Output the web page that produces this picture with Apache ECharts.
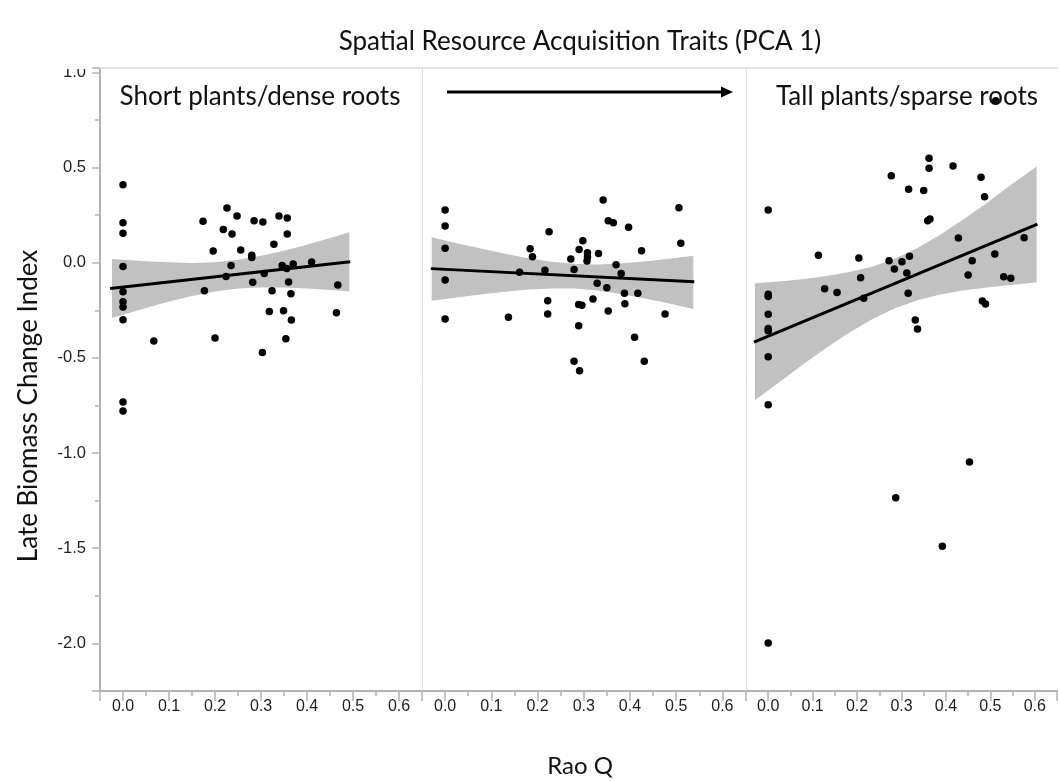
<!DOCTYPE html>
<html>
<head>
<meta charset="utf-8">
<script src="https://cdn.jsdelivr.net/npm/echarts@6/dist/echarts.min.js"></script>
<style>
  html, body { margin: 0; padding: 0; background: #ffffff; }
  #chart { width: 1060px; height: 781px; }
</style>
</head>
<body>
<div id="chart"></div>
<script>
// ---- data -------------------------------------------------------------
const chartTitle = 'Spatial Resource Acquisition Traits (PCA 1)';
const yTitle = 'Late Biomass Change Index';
const xTitle = 'Rao Q';
const panelLabels = ['Short plants/dense roots', '', 'Tall plants/sparse roots'];

// [Rao Q, late biomass change index]
const shortPts = [
  [0, 0.41], [0, 0.21], [0, 0.155], [0, -0.02], [0, -0.152], [0, -0.205], [0, -0.232],
  [0, -0.30], [0, -0.732], [0, -0.779],
  [0.067, -0.411],
  [0.174, 0.218], [0.177, -0.147], [0.196, 0.061], [0.20, -0.396],
  [0.218, 0.175], [0.224, -0.073], [0.226, 0.287], [0.235, -0.014], [0.237, 0.151],
  [0.248, 0.245], [0.256, 0.067], [0.28, 0.039], [0.28, 0.028], [0.282, -0.103], [0.285, 0.221],
  [0.303, -0.471], [0.304, 0.214], [0.307, -0.056], [0.318, -0.256], [0.324, -0.147], [0.328, 0.097],
  [0.339, 0.245], [0.346, -0.014], [0.349, -0.252], [0.354, -0.399], [0.356, -0.031], [0.357, 0.235],
  [0.357, 0.151], [0.36, -0.101], [0.365, -0.163], [0.366, -0.301], [0.37, -0.007],
  [0.41, 0.004], [0.464, -0.263], [0.467, -0.117]
];
const midPts = [
  [0, 0.277], [0, 0.193], [0, 0.076], [0, -0.091], [0, -0.296],
  [0.137, -0.287], [0.161, -0.05], [0.184, 0.074], [0.189, 0.032], [0.216, -0.04],
  [0.222, -0.20], [0.222, -0.27], [0.225, 0.163], [0.272, 0.019], [0.279, -0.035],
  [0.279, -0.517], [0.291, -0.567], [0.289, -0.331], [0.289, -0.22], [0.296, -0.224],
  [0.29, 0.07], [0.298, 0.116], [0.308, 0.053], [0.308, 0.032], [0.307, 0.009],
  [0.32, -0.19], [0.329, -0.108], [0.332, 0.049], [0.342, 0.33], [0.35, -0.131],
  [0.353, 0.221], [0.353, -0.254], [0.364, 0.21], [0.37, -0.01], [0.381, -0.056],
  [0.388, -0.161], [0.389, -0.215], [0.397, 0.186], [0.41, -0.392], [0.417, -0.161],
  [0.425, 0.063], [0.431, -0.517], [0.476, -0.27], [0.506, 0.289], [0.51, 0.102]
];
const tallPts = [
  [0, 0.277], [0, -0.165], [0, -0.178], [0, -0.271], [0, -0.345], [0, -0.357], [0, -0.494],
  [0, -0.746], [0, -1.998],
  [0.113, 0.039], [0.127, -0.137], [0.155, -0.156], [0.204, 0.025], [0.208, -0.079], [0.215, -0.187],
  [0.272, 0.011], [0.277, 0.457], [0.284, -0.033], [0.287, -1.235], [0.301, 0.005], [0.312, -0.054],
  [0.315, -0.161], [0.316, 0.386], [0.318, 0.034], [0.331, -0.301], [0.336, -0.348], [0.35, 0.38],
  [0.359, 0.221], [0.364, 0.23], [0.362, 0.549], [0.362, 0.496], [0.392, -1.49],
  [0.416, 0.508], [0.428, 0.13], [0.45, -0.065], [0.453, -1.047], [0.459, 0.011],
  [0.479, 0.449], [0.482, -0.201], [0.487, 0.347], [0.489, -0.217], [0.51, 0.046], [0.512, 0.851],
  [0.53, -0.074], [0.546, -0.082], [0.576, 0.131]
];

// fitted lines: [x, y] end points
const shortFit = [[-0.028, -0.135], [0.494, 0.005]];
const midFit = [[-0.031, -0.031], [0.539, -0.10]];
const tallFit = [[-0.032, -0.417], [0.606, 0.203]];

// confidence bands
const shortBandX  = [-0.024, 0.05, 0.10, 0.15, 0.20, 0.25, 0.30, 0.35, 0.40, 0.45, 0.492];
const shortBandHi = [0.020, 0.008, 0.002, -0.001, 0.003, 0.015, 0.036, 0.063, 0.095, 0.130, 0.160];
const shortBandLo = [-0.290, -0.238, -0.204, -0.175, -0.151, -0.136, -0.130, -0.130, -0.135, -0.143, -0.150];

const midBandX  = [-0.029, 0.03, 0.08, 0.13, 0.18, 0.23, 0.28, 0.33, 0.38, 0.43, 0.48, 0.537];
const midBandHi = [0.134, 0.100, 0.073, 0.047, 0.024, 0.005, -0.006, -0.009, -0.004, 0.007, 0.020, 0.037];
const midBandLo = [-0.200, -0.181, -0.166, -0.152, -0.141, -0.135, -0.136, -0.146, -0.164, -0.187, -0.212, -0.243];

const tallBandX  = [-0.03, 0.031, 0.081, 0.132, 0.183, 0.234, 0.285, 0.336, 0.387, 0.438, 0.489, 0.539, 0.604];
const tallBandHi = [-0.108, -0.097, -0.085, -0.070, -0.049, -0.021, 0.021, 0.077, 0.147, 0.226, 0.309, 0.396, 0.505];
const tallBandLo = [-0.722, -0.617, -0.530, -0.446, -0.367, -0.297, -0.239, -0.197, -0.167, -0.146, -0.131, -0.118, -0.104];

// ---- chart ------------------------------------------------------------
const panels = [
  { pts: shortPts, fit: shortFit, bx: shortBandX, hi: shortBandHi, lo: shortBandLo },
  { pts: midPts, fit: midFit, bx: midBandX, hi: midBandHi, lo: midBandLo },
  { pts: tallPts, fit: tallFit, bx: tallBandX, hi: tallBandHi, lo: tallBandLo }
];

const TICK_FONT = 'Liberation Sans, Arial, sans-serif';
const TEXT_FONT = 'Lato, Open Sans, sans-serif';
const AXIS_GRAY = '#b3b3b3';
const SEP_GRAY = '#dedede';
const TOP_GRAY = '#e4e4dc';

const grids = [
  { left: 100, top: 68, width: 322, height: 623 },
  { left: 422, top: 68, width: 323.5, height: 623 },
  { left: 746, top: 68, width: 316, height: 623 }
];

function isMultiple(v, step) {
  const r = v / step;
  return Math.abs(r - Math.round(r)) < 1e-6;
}

const xAxes = [];
const yAxes = [];
grids.forEach((g, i) => {
  xAxes.push({
    type: 'value', gridIndex: i, position: 'bottom', min: -0.05, max: 0.65, splitNumber: 7,
    axisLine: { show: true, onZero: false, lineStyle: { color: AXIS_GRAY, width: 2 } },
    axisTick: { show: true, length: 10, lineStyle: { color: AXIS_GRAY, width: 1.5 } },
    minorTick: { show: true, splitNumber: 2, length: 5, lineStyle: { color: AXIS_GRAY, width: 1.5 } },
    axisLabel: {
      margin: 8, color: '#222', fontSize: 16, fontFamily: TICK_FONT,
      formatter: v => isMultiple(v, 0.1) ? v.toFixed(1) : ''
    },
    splitLine: { show: false }
  });
  // top border of each panel
  xAxes.push({
    type: 'value', gridIndex: i, position: 'top', min: -0.05, max: 0.65,
    axisLine: { show: true, onZero: false, lineStyle: { color: TOP_GRAY, width: 2 } },
    axisTick: { show: false }, axisLabel: { show: false }, splitLine: { show: false }
  });
  yAxes.push({
    type: 'value', gridIndex: i, position: 'left', min: -2.25, max: 1.023, splitNumber: 6,
    axisLine: { show: true, onZero: false, lineStyle: { color: i === 0 ? AXIS_GRAY : SEP_GRAY, width: i === 0 ? 2 : 1 } },
    axisTick: { show: i === 0, length: 8, lineStyle: { color: AXIS_GRAY, width: 1.5 } },
    minorTick: { show: i === 0, splitNumber: 2, length: 5, lineStyle: { color: AXIS_GRAY, width: 1.5 } },
    axisLabel: {
      show: i === 0, margin: 14, color: '#222', fontSize: 16.5, fontFamily: TICK_FONT,
      formatter: v => isMultiple(v, 0.5) ? v.toFixed(1) : ''
    },
    splitLine: { show: false }
  });
});

const series = [];
panels.forEach((p, i) => {
  const xi = i * 2;
  // confidence band as one filled polygon
  series.push({
    type: 'custom', xAxisIndex: xi, yAxisIndex: i, z: 1, silent: true,
    data: p.bx.map((x, k) => [x, p.lo[k], p.hi[k]]),
    renderItem: (params, api) => {
      if (params.dataIndex !== 0) return null;
      const upper = p.bx.map((x, k) => api.coord([x, p.hi[k]]));
      const lower = p.bx.map((x, k) => api.coord([x, p.lo[k]])).reverse();
      return {
        type: 'polygon',
        shape: { points: upper.concat(lower) },
        style: { fill: '#c1c1c1', stroke: null }
      };
    }
  });
  series.push({
    type: 'scatter', xAxisIndex: xi, yAxisIndex: i, z: 3,
    data: p.pts, symbol: 'circle', symbolSize: 7.5,
    itemStyle: { color: '#000', opacity: 1 }
  });
  series.push({
    type: 'line', xAxisIndex: xi, yAxisIndex: i, z: 4,
    data: p.fit, symbol: 'none',
    lineStyle: { color: '#000', width: 3 }
  });
});

const chart = echarts.init(document.getElementById('chart'), null, { renderer: 'canvas' });
chart.setOption({
  backgroundColor: '#ffffff',
  animation: false,
  grid: grids,
  xAxis: xAxes,
  yAxis: yAxes,
  series: series,
  graphic: [
    // hides the part of the top tick label that sits above the frame
    { type: 'rect', left: 50, top: 50, shape: { width: 42, height: 19 }, style: { fill: '#fff' }, z: 100 },
    { type: 'text', x: 580, y: 42, z: 100,
      style: { text: chartTitle, font: '26px ' + TEXT_FONT, fill: '#111', align: 'center', verticalAlign: 'middle' } },
    { type: 'text', x: 29, y: 406, rotation: Math.PI / 2, z: 100,
      style: { text: yTitle, font: '26px ' + TEXT_FONT, fill: '#111', align: 'center', verticalAlign: 'middle' } },
    { type: 'text', x: 580, y: 766, z: 100,
      style: { text: xTitle, font: '24px ' + TEXT_FONT, fill: '#111', align: 'center', verticalAlign: 'middle' } },
    { type: 'text', x: 260, y: 97, z: 100,
      style: { text: panelLabels[0], font: '26px ' + TEXT_FONT, fill: '#111', align: 'center', verticalAlign: 'middle' } },
    { type: 'text', x: 907, y: 97, z: 2,
      style: { text: panelLabels[2], font: '26px ' + TEXT_FONT, fill: '#111', align: 'center', verticalAlign: 'middle' } },
    // direction arrow
    { type: 'line', z: 100, shape: { x1: 447, y1: 92, x2: 723, y2: 92 }, style: { stroke: '#000', lineWidth: 3 } },
    { type: 'polygon', z: 100, shape: { points: [[721, 86.5], [733, 92], [721, 97.5]] }, style: { fill: '#000' } }
  ]
});
</script>
</body>
</html>
